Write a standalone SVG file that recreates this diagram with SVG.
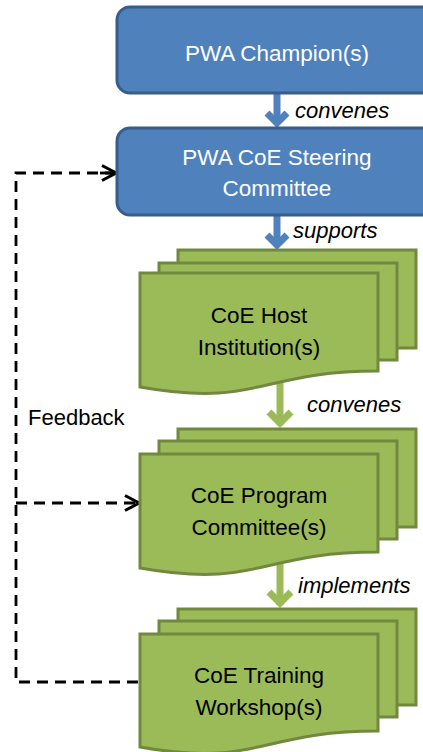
<svg xmlns="http://www.w3.org/2000/svg" width="423" height="752" viewBox="0 0 423 752">
<style>
.blue{fill:#4F81BD;stroke:#385D8A;stroke-width:3}
.green{fill:#9BBB59;stroke:#71893F;stroke-width:3;stroke-linejoin:miter}
.t{font-family:"Liberation Sans",Arial,sans-serif;font-size:22.5px;text-anchor:middle}
.w{fill:#FFFFFF}
.k{fill:#000000}
.lbl{font-family:"Liberation Sans",Arial,sans-serif;font-size:22px;font-style:italic;fill:#000}
.fb{font-family:"Liberation Sans",Arial,sans-serif;font-size:22px;fill:#000}
.ab{stroke:#4F81BD;stroke-width:7;fill:none}
.ag{stroke:#9BBB59;stroke-width:7;fill:none}
.dash{stroke:#000;stroke-width:2.8;fill:none;stroke-dasharray:11 7}
</style>
<defs>
<marker id="chev" markerUnits="userSpaceOnUse" viewBox="0 0 18 18" refX="16" refY="9" markerWidth="18" markerHeight="18" orient="auto">
<path d="M2,1.5 L16,9 L2,16.5" fill="none" stroke="#000" stroke-width="3"/>
</marker>
</defs>
<g id="connectors">
<path class="ab" d="M277,94 V124"/>
<path class="ab" d="M267,113 L277,123 L287,113"/>
<path class="ab" d="M277,216 V246"/>
<path class="ab" d="M267,235 L277,245 L287,235"/>
<path class="ag" d="M280,378 V425"/>
<path class="ag" d="M269,412 L280,423 L291,412"/>
<path class="ag" d="M280,558 V605"/>
<path class="ag" d="M269,592 L280,603 L291,592"/>
<path class="dash" d="M116,173 H16 V682 H140"/>
<path class="dash" d="M100,173 H116" stroke-dasharray="none" marker-end="url(#chev)"/>
<path class="dash" d="M16,503 H139" marker-end="url(#chev)"/>
</g>
<g id="pwa-champions">
<rect class="blue" x="117" y="7" width="320" height="86" rx="13"/>
<text class="t w" x="277" y="61">PWA Champion(s)</text>
</g>
<g id="steering-committee">
<rect class="blue" x="117" y="128" width="320" height="87" rx="13"/>
<text class="t w" x="277" y="165">PWA CoE Steering</text>
<text class="t w" x="277" y="196">Committee</text>
</g>
<g id="host-institutions">
<rect class="green" x="178" y="250" width="238" height="98"/>
<rect class="green" x="159" y="263" width="238" height="97"/>
<path class="green" d="M140,273 H378 V371 C259,371 259,408 140,387 Z"/>
<text class="t k" x="259" y="323">CoE Host</text>
<text class="t k" x="259" y="355">Institution(s)</text>
</g>
<g id="program-committees">
<rect class="green" x="178" y="429" width="238" height="98"/>
<rect class="green" x="159" y="441" width="238" height="98"/>
<path class="green" d="M140,454 H378 V552 C259,552 259,589 140,568 Z"/>
<text class="t k" x="259" y="503">CoE Program</text>
<text class="t k" x="259" y="535">Committee(s)</text>
</g>
<g id="training-workshops">
<rect class="green" x="178" y="609" width="238" height="96"/>
<rect class="green" x="159" y="621" width="238" height="96"/>
<path class="green" d="M140,634 H378 V731 C259,731 259,768 140,747 Z"/>
<text class="t k" x="259" y="683">CoE Training</text>
<text class="t k" x="259" y="715">Workshop(s)</text>
</g>
<g id="labels">
<text class="lbl" x="295" y="118">convenes</text>
<text class="lbl" x="293" y="238">supports</text>
<text class="lbl" x="307" y="412">convenes</text>
<text class="lbl" x="298" y="593">implements</text>
<text class="fb" x="28" y="425">Feedback</text>
</g>
</svg>
